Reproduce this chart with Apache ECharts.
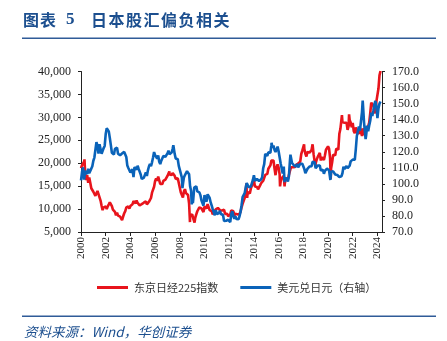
<!DOCTYPE html>
<html>
<head>
<meta charset="utf-8">
<script src="https://cdn.jsdelivr.net/npm/echarts@6/dist/echarts.min.js"></script>
<style>
html,body{margin:0;padding:0;background:#fff;}
#c{width:447px;height:341px;}
</style>
</head>
<body>
<div id="c"></div>
<script>
// ---- DATA ----
const titleNo = '图表';
const titleNum = '5';
const titleText = '日本股汇偏负相关';
const sourceText = '资料来源：Wind，华创证券';
const seriesNames = ['东京日经225指数', '美元兑日元（右轴）'];
const xTickYears = [2000, 2002, 2004, 2006, 2008, 2010, 2012, 2014, 2016, 2018, 2020, 2022, 2024];
const leftTicks = [5000, 10000, 15000, 20000, 25000, 30000, 35000, 40000];
const rightTicks = [70, 80, 90, 100, 110, 120, 130, 140, 150, 160, 170];

// month-end values, first element = end of Dec 1999, then Jan 2000 ... Mar 2024
const nikkeiMonthly = [
  18934,
  19540, 19960, 20337, 17974, 16332, 17411, 15727, 16861, 15747, 14539, 14649, 13786,
  13844, 12884, 12999, 13934, 13262, 12969, 11861, 10714, 9775, 10366, 10697, 10543,
  9998, 10588, 11025, 11493, 11764, 10622, 9878, 9619, 9383, 8640, 9216, 8579,
  8340, 8363, 7973, 7831, 8425, 9083, 9563, 10344, 10219, 10560, 10101, 10677,
  10784, 11042, 11715, 11762, 11236, 11859, 11326, 11082, 10824, 10771, 11069, 11489,
  11388, 11741, 11669, 11009, 11277, 11584, 11900, 12414, 13574, 13607, 14872, 16111,
  16650, 16206, 17060, 16907, 15468, 15505, 15457, 16141, 16128, 16399, 16274, 17226,
  17383, 17604, 17288, 17400, 17876, 18138, 17249, 16569, 16786, 16738, 15681, 15308,
  13592, 13604, 12526, 13850, 14339, 13481, 13377, 13073, 11260, 8577, 8512, 8860,
  7994, 7568, 8110, 8828, 9523, 9958, 10357, 10493, 10133, 10035, 9346, 10546,
  10198, 10126, 11090, 11057, 9769, 9383, 9537, 8824, 9369, 9202, 9937, 10229,
  10238, 10624, 9755, 9850, 9694, 9816, 9833, 8955, 8700, 8988, 8435, 8455,
  8803, 9723, 10084, 9521, 8543, 9007, 8695, 8840, 8870, 8928, 9446, 10395,
  11139, 11559, 12398, 13861, 13775, 13677, 13668, 13389, 14456, 14328, 15662, 16291,
  14915, 14841, 14828, 14304, 14632, 15162, 15621, 15425, 16174, 16414, 17460, 17451,
  17674, 18798, 19207, 19520, 20563, 20236, 20585, 18890, 17388, 19083, 19747, 19034,
  17518, 16027, 16759, 16666, 17235, 15576, 16569, 16887, 16450, 17425, 18308, 19114,
  19041, 19119, 18909, 19197, 19651, 20033, 19925, 19646, 20356, 22012, 22725, 22765,
  23098, 22068, 21454, 22468, 22202, 22305, 22554, 22865, 24120, 21920, 22351, 20015,
  20773, 21385, 21206, 22259, 20601, 21276, 21522, 20704, 21756, 22927, 23294, 23657,
  23205, 21143, 18917, 20194, 21878, 22288, 21710, 23140, 23185, 22977, 26434, 27444,
  27663, 28966, 29179, 28813, 28860, 28792, 27284, 28090, 29453, 28893, 27822, 28792,
  27002, 26527, 27821, 26848, 27280, 26393, 27802, 28092, 25937, 27587, 27969, 26095,
  27327, 27446, 28041, 28856, 30888, 33189, 33172, 32619, 31858, 30859, 33487, 33464,
  36287, 39166, 40100
];
const usdjpyMonthly = [
  102.2,
  107.3, 110.3, 102.7, 108.1, 107.7, 106.1, 109.4, 106.7, 108.0, 108.9, 111.0, 114.4,
  116.4, 117.4, 126.0, 123.7, 118.9, 124.7, 124.9, 118.7, 119.2, 122.3, 123.6, 131.0,
  134.6, 133.6, 132.7, 128.6, 124.1, 119.4, 119.8, 118.3, 121.8, 122.5, 122.5, 118.8,
  119.9, 117.8, 118.1, 119.0, 119.2, 119.9, 120.5, 116.8, 111.4, 109.9, 109.6, 107.1,
  105.9, 109.1, 104.2, 110.4, 109.4, 108.8, 111.3, 109.3, 110.1, 105.8, 103.1, 102.6,
  103.7, 104.6, 107.1, 104.9, 108.4, 110.8, 112.4, 111.0, 113.4, 116.4, 119.8, 117.9,
  117.2, 115.8, 117.7, 113.8, 112.3, 114.4, 114.6, 117.4, 118.0, 116.9, 115.9, 119.0,
  120.7, 118.5, 117.8, 119.5, 121.7, 123.2, 118.7, 115.8, 114.8, 115.3, 111.2, 111.7,
  106.4, 103.8, 99.7, 104.0, 105.5, 106.2, 107.9, 108.8, 106.0, 98.5, 95.5, 90.6,
  89.9, 97.7, 98.3, 98.5, 95.3, 96.4, 94.7, 93.0, 89.8, 90.1, 86.4, 93.0,
  90.3, 88.9, 93.5, 94.2, 91.2, 88.4, 86.4, 84.2, 83.5, 80.4, 83.7, 81.1,
  82.0, 81.8, 83.2, 81.2, 81.5, 80.6, 76.8, 76.6, 77.0, 78.2, 77.6, 76.9,
  76.2, 81.2, 82.9, 80.0, 78.3, 79.8, 78.1, 78.4, 77.9, 79.8, 82.5, 86.7,
  91.7, 92.6, 94.2, 97.5, 100.5, 99.2, 97.9, 98.2, 98.3, 98.4, 102.4, 105.3,
  102.0, 101.8, 103.0, 102.2, 101.8, 101.3, 102.8, 104.1, 109.7, 112.3, 118.6, 119.8,
  117.5, 119.6, 120.1, 119.4, 124.1, 122.5, 123.9, 121.2, 119.9, 120.6, 123.2, 120.3,
  121.1, 112.7, 112.6, 106.5, 110.7, 103.3, 102.1, 103.4, 101.4, 104.8, 114.5, 117.0,
  113.0, 112.8, 111.4, 111.5, 110.8, 112.4, 110.3, 110.0, 112.5, 113.6, 112.5, 112.7,
  109.2, 106.7, 106.3, 109.3, 108.8, 110.8, 111.8, 111.0, 113.7, 112.9, 113.5, 109.7,
  108.9, 111.4, 110.9, 111.4, 108.3, 107.9, 108.8, 106.3, 108.1, 108.0, 109.5, 108.6,
  108.4, 107.9, 107.5, 107.2, 107.8, 107.9, 105.8, 105.9, 105.5, 104.7, 104.3, 103.3,
  104.7, 106.6, 110.7, 109.3, 109.6, 111.1, 109.7, 110.0, 111.3, 114.0, 113.2, 115.1,
  115.1, 115.0, 121.7, 129.8, 128.7, 135.7, 133.2, 138.9, 144.7, 148.7, 138.1, 131.1,
  130.1, 136.2, 132.8, 136.3, 139.3, 144.3, 142.3, 145.5, 149.4, 151.7, 148.2, 141.0,
  147.0, 150.0, 151.3
];
// intra-month extremes visible in the daily lines
const nikkeiExtremes = [
  ['2000-04-12', 20833], ['2003-04-28', 7607], ['2007-02-26', 18215], ['2007-07-09', 18262],
  ['2008-10-27', 7162], ['2009-03-10', 7055], ['2013-05-22', 15627], ['2013-06-13', 12445],
  ['2015-06-24', 20868], ['2016-02-12', 14952], ['2016-06-24', 14952], ['2018-01-23', 24124],
  ['2018-10-02', 24270], ['2018-12-25', 19155], ['2020-03-19', 16553], ['2021-02-16', 30468],
  ['2021-09-14', 30670]
];
const usdjpyExtremes = [
  ['2002-01-31', 134.8], ['2007-06-22', 124.1], ['2008-03-17', 97.3], ['2008-12-17', 87.2],
  ['2009-01-21', 88.0], ['2011-10-31', 75.8], ['2015-06-05', 125.6], ['2016-06-24', 101.0],
  ['2016-12-15', 118.2], ['2020-03-09', 102.4], ['2022-10-21', 151.9], ['2023-01-16', 127.9],
  ['2023-11-13', 151.7]
];

// ---- BUILD ----
function dateX(s) {
  const p = s.split('-').map(Number);
  return p[0] + (p[1] - 1) / 12 + (p[2] / 31) / 12;
}
function build(monthly, extremes) {
  const pts = monthly.map((v, i) => [2000 + i / 12, v]);
  extremes.forEach(e => pts.push([dateX(e[0]), e[1]]));
  pts.sort((a, b) => a[0] - b[0]);
  return pts;
}
const nikkeiData = build(nikkeiMonthly, nikkeiExtremes);
const usdjpyData = build(usdjpyMonthly, usdjpyExtremes);

const RED = '#e8141c';
const BLUE = '#0a63b9';
const NAVY = '#1c4f8f';
const RULE = '#2f5b98';
const serif = '"Liberation Serif", "Times New Roman", serif';
const cjk = '"Noto Sans CJK SC", sans-serif';

// title chars placed individually to match letter spacing
const titleGraphics = [];
[...titleNo].forEach((ch, i) => {
  titleGraphics.push({type: 'text', left: 23 + i * 17, top: 12,
    style: {text: ch, font: 'bold 16px ' + cjk, fill: NAVY}});
});
titleGraphics.push({type: 'text', left: 66, top: 11,
  style: {text: titleNum, font: 'bold 17px ' + serif, fill: NAVY}});
[...titleText].forEach((ch, i) => {
  titleGraphics.push({type: 'text', left: 91 + i * 17.5, top: 12,
    style: {text: ch, font: 'bold 16px ' + cjk, fill: NAVY}});
});

const chart = echarts.init(document.getElementById('c'), null, {renderer: 'canvas'});
chart.setOption({
  animation: false,
  backgroundColor: '#fff',
  graphic: titleGraphics.concat([
    {type: 'rect', shape: {x: 22, y: 37.5, width: 414, height: 1.6}, style: {fill: RULE}},
    {type: 'rect', shape: {x: 22, y: 315.5, width: 414, height: 1.6}, style: {fill: RULE}},
    {type: 'text', left: 24, top: 325,
      style: {text: sourceText, font: 'italic 13.5px ' + cjk, fill: NAVY}}
  ]),
  grid: {left: 81, right: 65, top: 71.5, bottom: 109, containLabel: false},
  legend: {
    left: 92, top: 277,
    icon: 'rect', itemWidth: 31, itemHeight: 3, itemGap: 22,
    textStyle: {fontSize: 11, fontFamily: cjk, color: '#333', padding: [0, 0, 0, 1]},
    data: seriesNames
  },
  xAxis: {
    type: 'value', min: 2000, max: 2024.37, interval: 2,
    axisLine: {lineStyle: {color: '#222', width: 1}},
    axisTick: {length: 4, lineStyle: {color: '#222'}},
    splitLine: {show: false},
    axisLabel: {
      rotate: 90, margin: 5, fontSize: 11, fontFamily: serif, color: '#222',
      showMaxLabel: false,
      formatter: v => (xTickYears.indexOf(Math.round(v)) >= 0 && Math.abs(v - Math.round(v)) < 1e-6) ? String(Math.round(v)) : ''
    }
  },
  yAxis: [
    {
      type: 'value', min: leftTicks[0], max: leftTicks[leftTicks.length - 1], interval: 5000,
      axisLine: {show: true, lineStyle: {color: '#222', width: 1}},
      axisTick: {show: true, length: 3, lineStyle: {color: '#222'}},
      splitLine: {show: false},
      axisLabel: {margin: 10, fontSize: 12, fontFamily: serif, color: '#222',
        formatter: v => v.toLocaleString('en-US')}
    },
    {
      type: 'value', min: rightTicks[0], max: rightTicks[rightTicks.length - 1], interval: 10,
      position: 'right',
      axisLine: {show: true, lineStyle: {color: '#222', width: 1}},
      axisTick: {show: true, length: 3, lineStyle: {color: '#222'}},
      splitLine: {show: false},
      axisLabel: {margin: 10, fontSize: 12, fontFamily: serif, color: '#222',
        formatter: v => v.toFixed(1)}
    }
  ],
  series: [
    {name: seriesNames[0], type: 'line', yAxisIndex: 0, data: nikkeiData, showSymbol: false,
      symbol: 'none', lineStyle: {color: RED, width: 2.6}, itemStyle: {color: RED}, z: 2},
    {name: seriesNames[1], type: 'line', yAxisIndex: 1, data: usdjpyData, showSymbol: false,
      symbol: 'none', lineStyle: {color: BLUE, width: 2.6}, itemStyle: {color: BLUE}, z: 3}
  ]
});
</script>
</body>
</html>
